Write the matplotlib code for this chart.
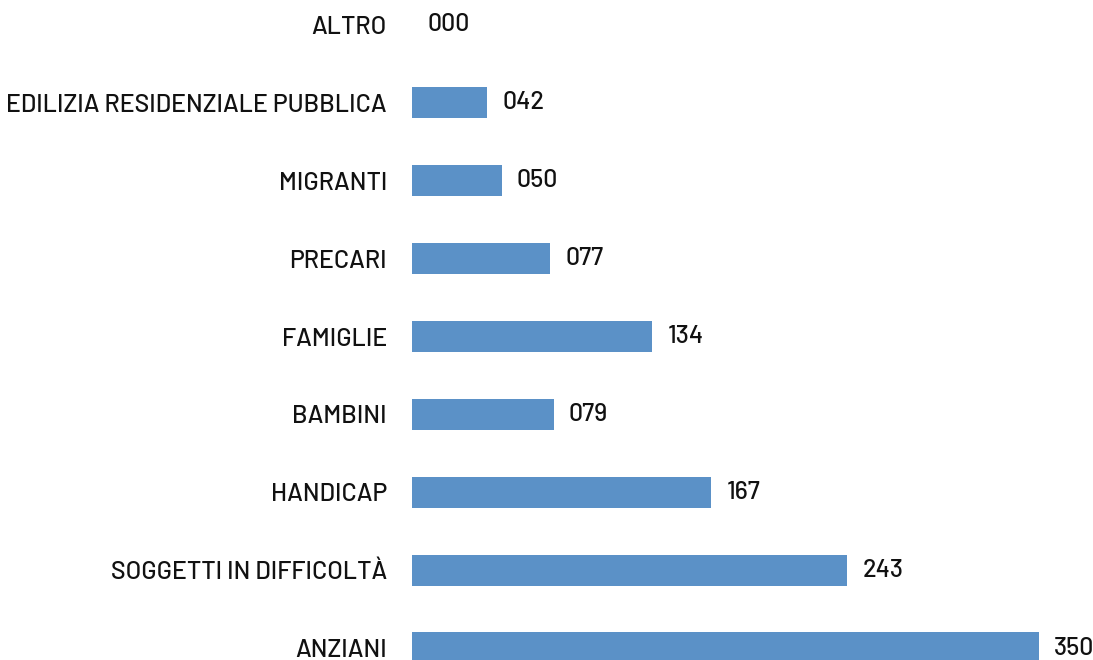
import matplotlib
matplotlib.use("Agg")
import matplotlib.pyplot as plt

categories = ["ALTRO", "EDILIZIA RESIDENZIALE PUBBLICA", "MIGRANTI", "PRECARI",
              "FAMIGLIE", "BAMBINI", "HANDICAP", "SOGGETTI IN DIFFICOLTÀ", "ANZIANI"]
values = [0, 42, 50, 77, 134, 79, 167, 243, 350]

plt.rcParams['font.family'] = ['Barlow', 'Barlow Semi Condensed', 'Archivo Narrow', 'DejaVu Sans']

W, H = 1093, 660
fig = plt.figure(figsize=(W / 100, H / 100), dpi=100)
left = 412 / W
ax = fig.add_axes([left, 0, 1 - left, 1])

pos = list(range(len(categories)))
ax.barh(pos, values, height=0.4, color="#5b91c7", edgecolor="none", linewidth=0)
ax.set_xlim(0, 380.2)
ax.set_ylim(8.154, -0.321)
ax.set_yticks(pos)
ax.set_yticklabels(categories, fontsize=18, fontweight="medium", color="#111111")
ax.tick_params(axis="y", length=0, pad=18)
ax.set_xticks([])
for s in ax.spines.values():
    s.set_visible(False)

for p, v in zip(pos, values):
    ax.annotate(f"{v:03d}", (v, p), xytext=(11, 0), textcoords="offset points",
                va="center", ha="left", fontsize=18, fontweight="medium",
                color="#111111")

fig.savefig("out.png", dpi=100)
